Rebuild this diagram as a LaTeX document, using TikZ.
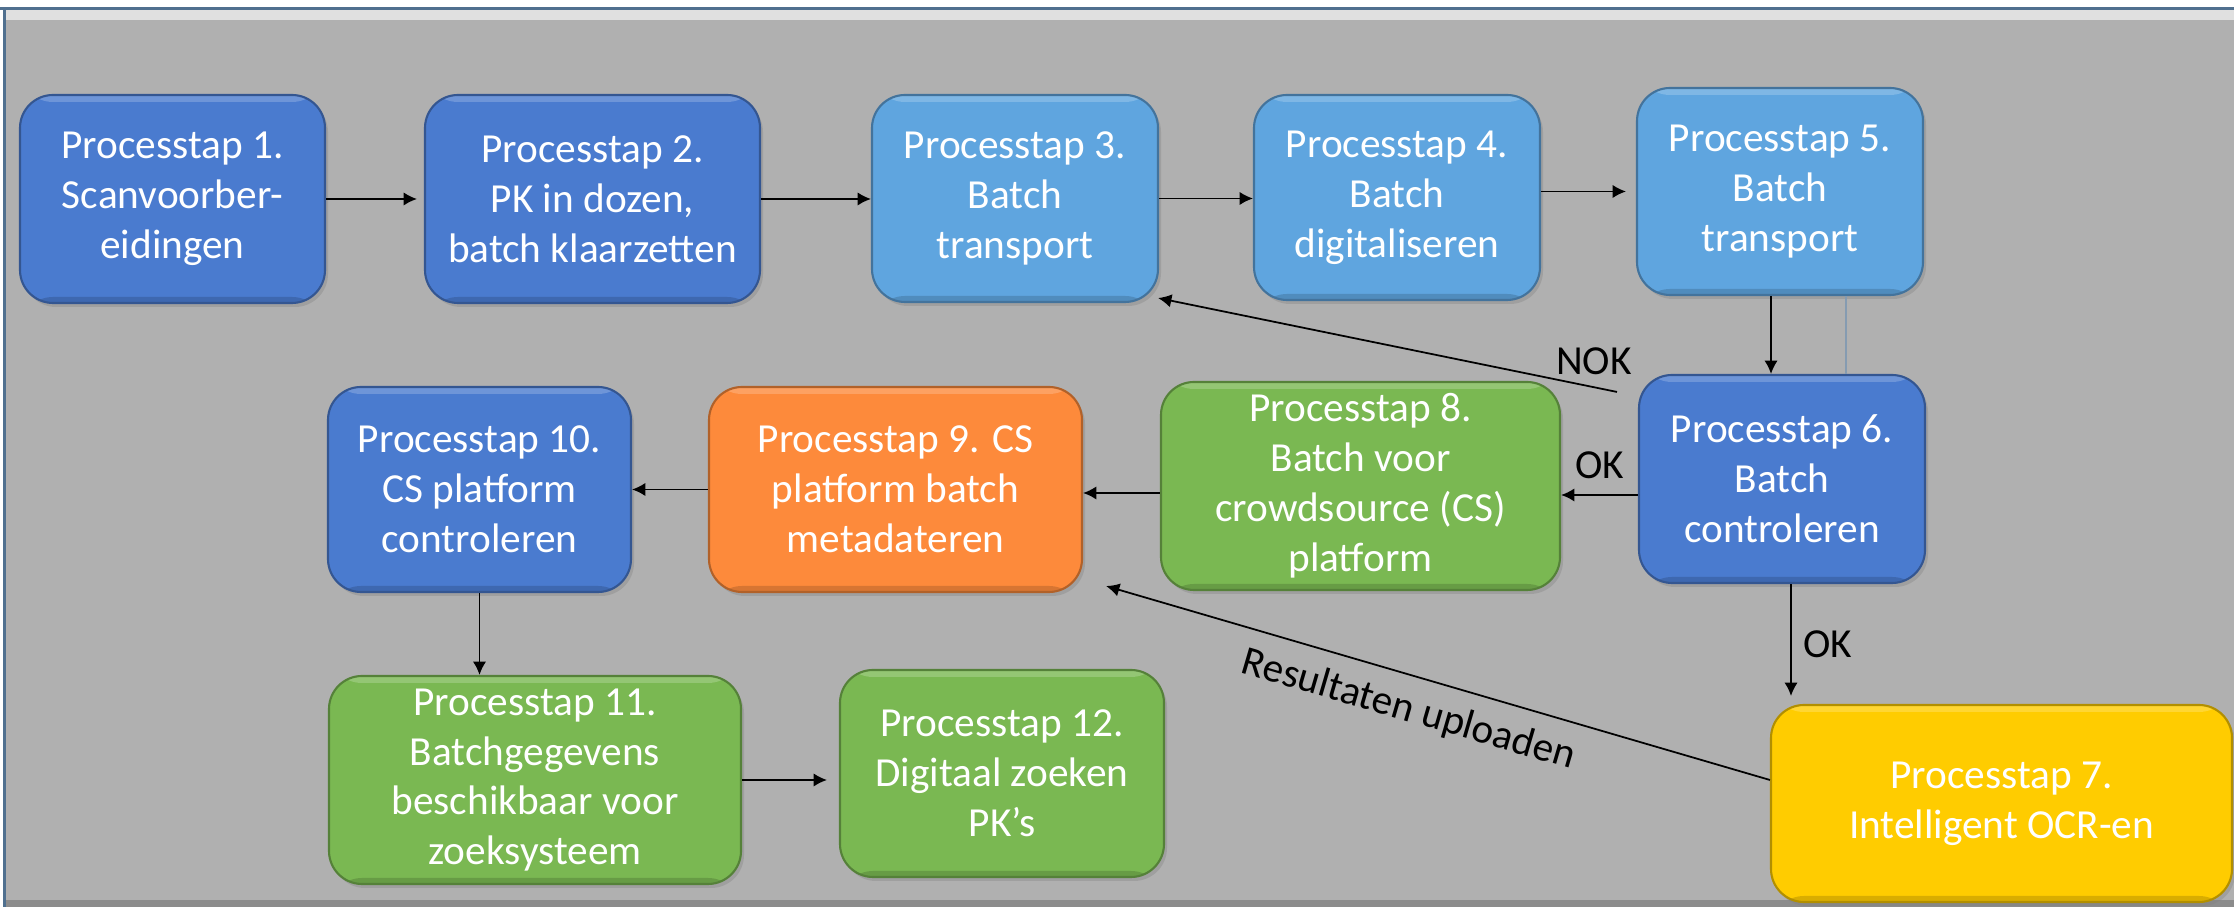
\documentclass[tikz,border=0pt]{standalone}
\usepackage{fontspec}
\setmainfont{Carlito}
\usepackage{tikz}
\usetikzlibrary{arrows.meta,shadows}
\definecolor{stapdonker}{HTML}{4A7BCF}
\definecolor{staplicht}{HTML}{5FA5DF}
\definecolor{stapgroen}{HTML}{7AB852}
\definecolor{staporanje}{HTML}{FD8A3B}
\definecolor{stapgeel}{HTML}{FFCC00}
\definecolor{achtergrond}{HTML}{B0B0B0}
\definecolor{randblauw}{HTML}{50708F}
\newcommand{\stapfont}{\fontsize{11.75}{14.2}\selectfont}
\tikzset{
  processtap/.style={
    rectangle, rounded corners=0.33cm, align=center, inner sep=0pt,
    fill=#1, draw=#1!70!black, line width=0.6pt, text=white, font=\stapfont,
    drop shadow={shadow xshift=0.03cm, shadow yshift=-0.04cm, opacity=0.35},
    path picture={
      \fill[white, opacity=0.2] (path picture bounding box.north west) rectangle ([yshift=-0.07cm]path picture bounding box.north east);
      \fill[black, opacity=0.15] (path picture bounding box.south west) rectangle ([yshift=0.06cm]path picture bounding box.south east);
    }
  },
  pijl/.style={->, line width=0.5pt},
  tekst/.style={font=\stapfont, text=black},
}

\begin{document}
\begin{tikzpicture}[>={Latex[length=3.8pt,width=3.8pt]}]
  \useasboundingbox (0,0) rectangle (22.34,9.07);
  % achtergrond met rand
  \fill[white] (0,0) rectangle (22.34,9.07);
  \fill[achtergrond] (0.03,0) rectangle (22.34,9.0);
  \fill[black!45] (0.03,0) rectangle (22.34,0.07);
  \fill[black!12] (0.06,8.87) rectangle (22.34,8.97);
  \fill[randblauw] (0,8.97) rectangle (22.34,9.0);
  \fill[randblauw] (0.03,0) rectangle (0.06,9.0);

  % processtappen
  \node[processtap=stapdonker, minimum width=3.05cm, minimum height=2.08cm] (p1) at (1.725,7.08)
    {Processtap 1.\\Scanvoorber-\\eidingen};
  \node[processtap=stapdonker, minimum width=3.35cm, minimum height=2.08cm] (p2) at (5.925,7.08)
    {Processtap 2.\\PK in dozen,\\batch klaarzetten};
  \node[processtap=staplicht, minimum width=2.86cm, minimum height=2.07cm] (p3) at (10.15,7.085)
    {Processtap 3.\\Batch\\transport};
  \node[processtap=staplicht, minimum width=2.86cm, minimum height=2.05cm] (p4) at (13.97,7.095)
    {Processtap 4.\\Batch\\digitaliseren};
  \node[processtap=staplicht, minimum width=2.86cm, minimum height=2.07cm] (p5) at (17.80,7.155)
    {Processtap 5.\\Batch\\transport};
  \node[processtap=stapdonker, minimum width=2.86cm, minimum height=2.08cm] (p6) at (17.82,4.28)
    {Processtap 6.\\Batch\\controleren};
  \node[processtap=stapgeel, minimum width=4.61cm, minimum height=1.97cm] (p7) at (20.015,1.035)
    {Processtap 7.\\Intelligent OCR-en};
  \node[processtap=stapgroen, minimum width=3.99cm, minimum height=2.08cm] (p8) at (13.605,4.21)
    {Processtap 8.\\Batch voor\\crowdsource (CS)\\platform};
  \node[processtap=staporanje, minimum width=3.73cm, minimum height=2.05cm] (p9) at (8.955,4.175)
    {Processtap 9. CS\\platform batch\\metadateren};
  \node[processtap=stapdonker, minimum width=3.03cm, minimum height=2.05cm] (p10) at (4.795,4.175)
    {Processtap 10.\\CS platform\\controleren};
  \node[processtap=stapgroen, minimum width=4.12cm, minimum height=2.08cm] (p11) at (5.35,1.27)
    {Processtap 11.\\Batchgegevens\\beschikbaar voor\\zoeksysteem};
  \node[processtap=stapgroen, minimum width=3.24cm, minimum height=2.07cm] (p12) at (10.02,1.335)
    {Processtap 12.\\Digitaal zoeken\\PK’s};

  % verbindingen
  \draw[pijl, shorten >=0.07cm] (p1.east) -- (p1.east -| p2.west);
  \draw[pijl] (p2.east) -- (p2.east -| p3.west);
  \draw[pijl] (p3.east) -- (p3.east -| p4.west);
  \draw[pijl, shorten >=0.1cm] (p4.east |- p5.west) -- (p5.west);
  \draw[pijl] ([xshift=-0.09cm]p5.south) -- ([xshift=-0.09cm]p5.south |- p6.north);
  \draw[randblauw!70, line width=0.4pt] ([xshift=0.66cm]p5.south) -- ([xshift=0.66cm]p5.south |- p6.north);
  \draw[pijl] ([shift={(-0.21,-0.18)}]p6.north west) -- ([shift={(-0.01,0.05)}]p3.south east)
    node[tekst, pos=0.05, above] {NOK};
  \draw[pijl] ([yshift=-0.16cm]p6.west) -- ([yshift=-0.16cm]p6.west -| p8.east)
    node[tekst, midway, above=1pt] {OK};
  \draw[pijl, shorten >=0.08cm] ([xshift=0.09cm]p6.south) -- ([xshift=0.09cm]p6.south |- p7.north)
    node[tekst, midway, right] {OK};
  \draw[pijl] ([yshift=-0.07cm]p8.west) -- ([yshift=-0.07cm]p8.west -| p9.east);
  \draw[pijl] (p9.west) -- (p10.east);
  \draw[pijl] (p10.south) -- (p10.south |- p11.north);
  \draw[pijl, shorten >=0.12cm] (p11.east) -- (p11.east -| p12.west);
  \draw[pijl] ([yshift=0.235cm]p7.west) -- ([shift={(0.23,0.07)}]p9.south east)
    node[tekst, pos=0.53, sloped, below=0.04cm] {Resultaten uploaden};
\end{tikzpicture}
\end{document}
